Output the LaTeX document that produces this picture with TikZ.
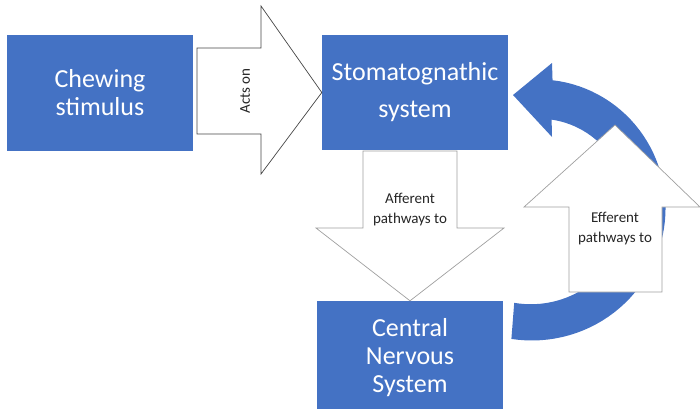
\documentclass[tikz,border=0pt]{standalone}
\usepackage{fontspec}
\setmainfont{Carlito}
\usepackage{tikz}
\definecolor{officeblue}{RGB}{68,114,196}
\definecolor{outlinegray}{RGB}{160,160,160}
\definecolor{darkoutline}{RGB}{70,70,70}

\begin{document}
\begin{tikzpicture}[x=1pt, y=-1pt,
    bluebox/.style={fill=officeblue, text=white, minimum width=186pt, inner sep=0pt, align=center, font=\fontsize{26}{28}\selectfont},
    hollow/.style={draw=outlinegray, fill=white, line width=0.7pt, line join=miter},
    smalltext/.style={align=center, text=black!85, font=\fontsize{15}{20}\selectfont}]
    \useasboundingbox (0,0) rectangle (700,416);
    \node[bluebox, minimum height=116pt] (chew) at (100,93) {Chewing\\stimulus};
    \node[bluebox, minimum height=115pt, font=\fontsize{26}{37}\selectfont] (stoma) at (415,92.5) {Stomatognathic\\system};
    \node[bluebox, minimum height=108pt, text depth=0pt] (cns) at (410,355) {Central\\Nervous\\System};
    \draw[hollow, draw=darkoutline] (197,48) -- (261,48) -- (261,6) -- (stoma.west) -- (261,174) -- (261,134) -- (197,134) -- cycle;
    \node[smalltext, rotate=90] (actson) at (245,91) {Acts on};
    \draw[hollow] (363,151) -- (363,228) -- (316,228) -- (cns.north) -- (504,228) -- (457,228) -- (457,151) -- cycle;
    \node[smalltext] (afferent) at (410,210) {Afferent\\pathways to};
    \fill[officeblue] plot[domain=-82:100, samples=60] ({535+(126+10*(\x+82)/182)*cos(\x)}, {205+(126+10*(\x+82)/182)*sin(\x)})
        -- plot[domain=102:-79, samples=60] ({535+(87+13*(\x+79)/181)*cos(\x)}, {205+(87+13*(\x+79)/181)*sin(\x)})
        -- (552,137) -- (513,95) -- (552,63) -- cycle;
    \draw[hollow] (569,292) -- (569,207) -- (524,207) -- (615,125) -- (700,207) -- (662,207) -- (662,292) -- cycle;
    \node[smalltext] (efferent) at (615,229) {Efferent\\pathways to};
\end{tikzpicture}
\end{document}
